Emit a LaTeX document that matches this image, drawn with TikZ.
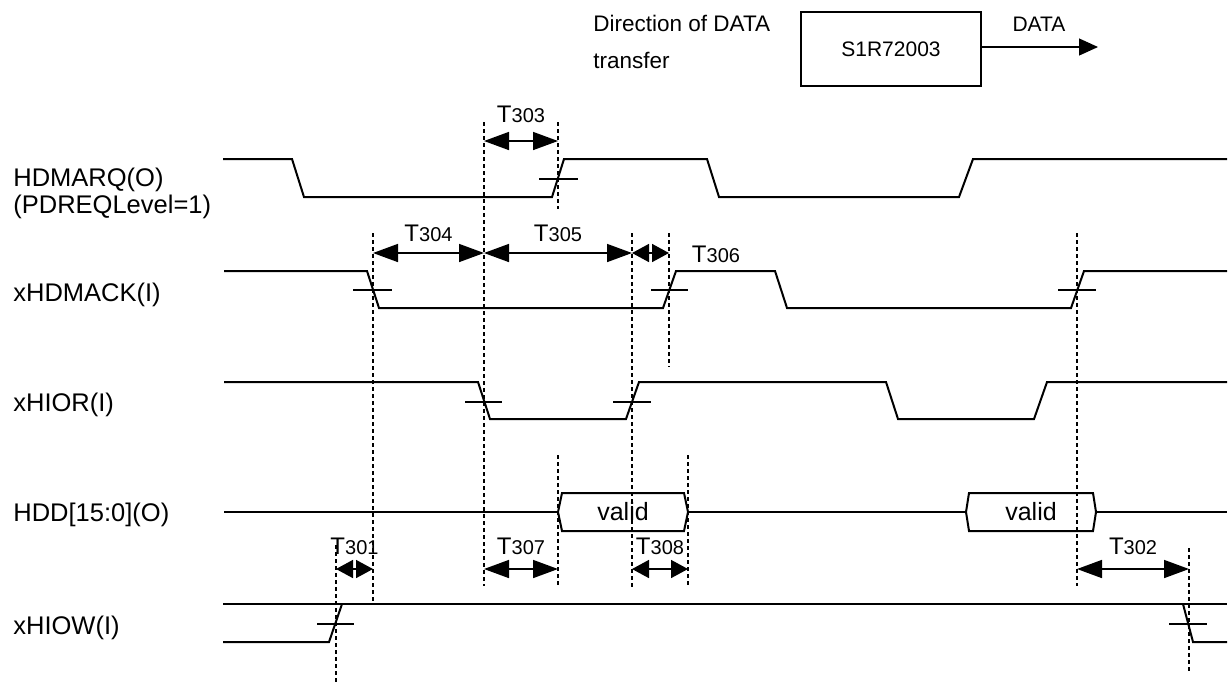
\documentclass[tikz,border=0pt]{standalone}
\usepackage{fontspec}
\setmainfont{Liberation Sans}
\usepackage{tikz}
\usetikzlibrary{arrows.meta,positioning,calc}
\newcommand{\tnum}[1]{T{\fontsize{10}{12}\selectfont #1}}
\tikzset{sig/.style={line width=1pt},
         guide/.style={dash pattern=on 2pt off 1.5pt, line width=0.6pt},
         crs/.style={line width=0.6pt},
         tim/.style={<->, >={Triangle[length=12.5pt,width=9pt]}, line width=0.8pt},
         tims/.style={<->, >={Triangle[length=8.5pt,width=9pt]}, line width=0.8pt},
         lbl/.style={inner sep=0pt, font=\fontsize{12}{14}\selectfont},
         sname/.style={inner sep=0pt, anchor=base west, font=\fontsize{12.75}{13.5}\selectfont},
         vlbl/.style={inner sep=0pt, font=\fontsize{12.5}{14}\selectfont}
}

\begin{document}
\begin{tikzpicture}[x=0.5pt,y=-0.5pt]
  \useasboundingbox (0,0) rectangle (1229,682);

  % direction of transfer
  \node[draw, line width=0.6pt, minimum width=90pt, minimum height=37pt,
        font=\fontsize{10.5}{12}\selectfont] (s1r) at (891,49) {S1R72003};
  \coordinate (dout) at (1098,47);
  \draw[line width=0.6pt, -{Triangle[length=9.5pt,width=8.5pt]}] (s1r.east |- dout) -- (dout);
  \node[inner sep=0pt, font=\fontsize{10.5}{12}\selectfont] (data) at (1039,24) {DATA};
  \node[anchor=north west, align=left, inner sep=0pt,
        font=\fontsize{11.25}{18.5}\selectfont] (dir) at (593,15) {Direction of DATA\\transfer};

  % signal names
  \node[sname, anchor=north west, align=left] (hdmarq) at (13,168) {HDMARQ(O)\\(PDREQLevel=1)};
  \node[sname] (xhdmack) at (13,301) {xHDMACK(I)};
  \node[sname] (xhior) at (13,411) {xHIOR(I)};
  \node[sname] (hdd) at (13,521) {HDD[15:0](O)};
  \node[sname] (xhiow) at (13,634) {xHIOW(I)};

  % waveforms
  \draw[sig] (223,159) -- (292,159) -- (304,197) -- (552,197) -- (564,159) -- (707,159)
             -- (719,197) -- (959,197) -- (973,159) -- (1227,159);
  \draw[crs] (539,179) -- (578,179);

  \draw[sig] (224,271) -- (367,271) -- (379,308) -- (663,308) -- (676,271) -- (775,271)
             -- (787,308) -- (1071,308) -- (1084,271) -- (1227,271);
  \draw[crs] (353,290) -- (392,290);
  \draw[crs] (651,290) -- (688,290);
  \draw[crs] (1058,290) -- (1096,290);

  \draw[sig] (224,382) -- (478,382) -- (490,419) -- (626,419) -- (639,382) -- (886,382)
             -- (898,419) -- (1034,419) -- (1047,382) -- (1227,382);
  \draw[crs] (465,402) -- (502,402);
  \draw[crs] (613,402) -- (651,402);

  \draw[sig] (224,512) -- (558,512) (688,512) -- (966,512) (1096,512) -- (1227,512);
  \draw[sig] (558,512) -- (562,493) -- (684,493) -- (688,512) -- (684,531) -- (562,531) -- cycle;
  \draw[sig] (966,512) -- (969,493) -- (1093,493) -- (1096,512) -- (1093,531) -- (969,531) -- cycle;
  \node[vlbl] (valid1) at (623,512) {valid};
  \node[vlbl] (valid2) at (1031,512) {valid};

  \draw[sig] (223,604) -- (1227,604);
  \draw[sig] (223,642) -- (329,642) -- (342,604);
  \draw[sig] (1183,604) -- (1193,642) -- (1227,642);
  \draw[crs] (317,624) -- (354,624);
  \draw[crs] (1169,624) -- (1207,624);

  % guides
  \draw[guide] (336,545) -- (336,682);
  \draw[guide] (373,233) -- (373,604);
  \draw[guide] (484,122) -- (484,586);
  \draw[guide] (558,122) -- (558,209);
  \draw[guide] (558,455) -- (558,586);
  \draw[guide] (632,233) -- (632,588);
  \draw[guide] (669,233) -- (669,367);
  \draw[guide] (688,455) -- (688,588);
  \draw[guide] (1077,233) -- (1077,586);
  \draw[guide] (1189,548) -- (1189,674);

  % timings
  \coordinate (a303) at (484,141);  \coordinate (b303) at (558,141);
  \coordinate (a304) at (373,253);  \coordinate (b304) at (484,253);
  \coordinate (b305) at (632,253);  \coordinate (b306) at (669,253);
  \coordinate (a301) at (336,569);  \coordinate (b301) at (373,569);
  \coordinate (a307) at (484,569);  \coordinate (b307) at (558,569);
  \coordinate (a308) at (632,569);  \coordinate (b308) at (688,569);
  \coordinate (a302) at (1077,569); \coordinate (b302) at (1189,569);

  \draw[tim] (a303) -- node[lbl, above=9pt] (t303) {\tnum{303}} (b303);
  \draw[tim] (a304) -- node[lbl, above=5.5pt] (t304) {\tnum{304}} (b304);
  \draw[tim] (b304) -- node[lbl, above=5.5pt] (t305) {\tnum{305}} (b305);
  \draw[tims] (b305) -- (b306);
  \node[lbl, anchor=base] (t306) at (716,262) {\tnum{306}};
  \draw[tims] (a301) -- node[lbl, above=7pt] (t301) {\tnum{301}} (b301);
  \draw[tim] (a307) -- node[lbl, above=7pt] (t307) {\tnum{307}} (b307);
  \draw[tims] (a308) -- node[lbl, above=7pt] (t308) {\tnum{308}} (b308);
  \draw[tim] (a302) -- node[lbl, above=7pt] (t302) {\tnum{302}} (b302);
\end{tikzpicture}
\end{document}
